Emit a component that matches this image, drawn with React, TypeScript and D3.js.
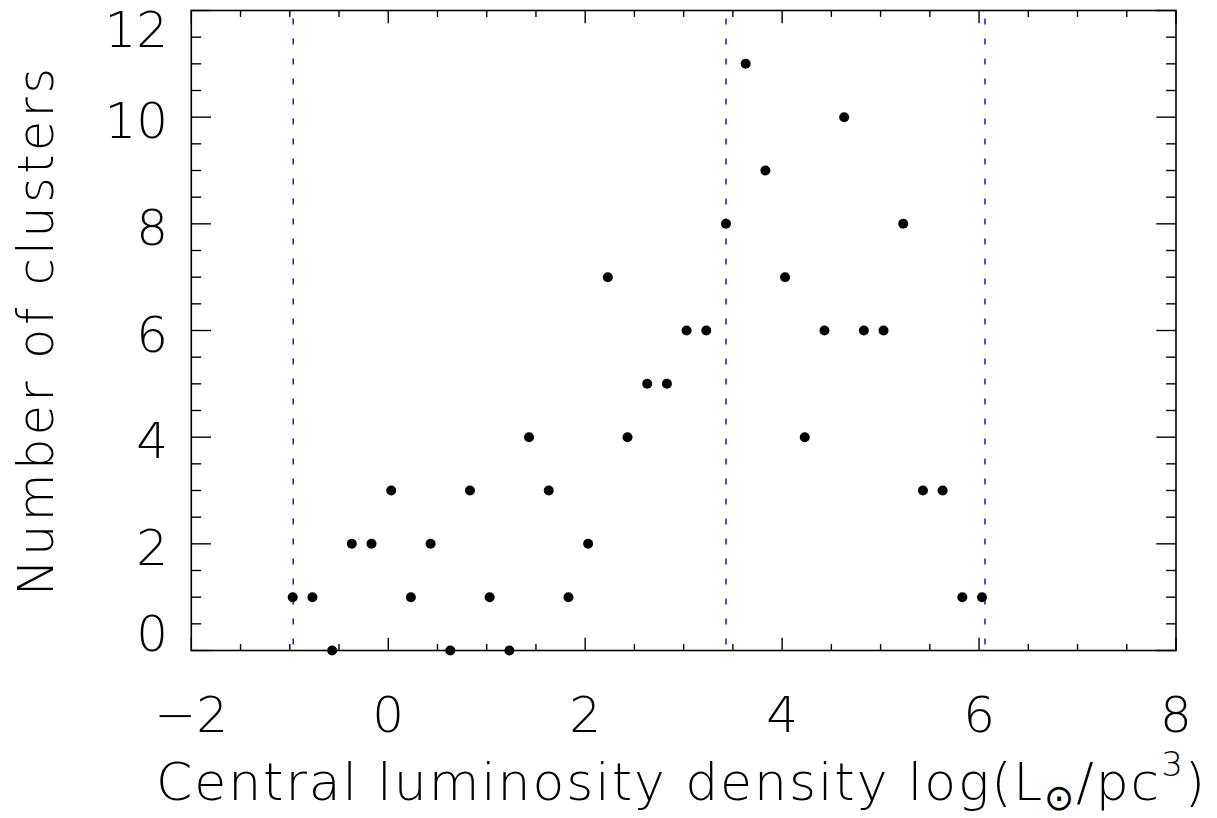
import React from "react";
import * as d3 from "d3";

const binCenters = [
  -0.97, -0.77, -0.57, -0.37, -0.17, 0.03, 0.23, 0.43, 0.63, 0.83, 1.03, 1.23,
  1.43, 1.63, 1.83, 2.03, 2.23, 2.43, 2.63, 2.83, 3.03, 3.23, 3.43, 3.63,
  3.83, 4.03, 4.23, 4.43, 4.63, 4.83, 5.03, 5.23, 5.43, 5.63, 5.83, 6.03,
];
const counts = [
  1, 1, 0, 2, 2, 3, 1, 2, 0, 3, 1, 0, 4, 3, 1, 2, 7, 4, 5, 5, 6, 6, 8, 11,
  9, 7, 4, 6, 10, 6, 6, 8, 3, 3, 1, 1,
];
const markerLines = [-0.965, 3.43, 6.06];
const xTicks = [-2, 0, 2, 4, 6, 8];
const yTicks = [0, 2, 4, 6, 8, 10, 12];
const xTitle = "Central luminosity density log(L";
const yTitle = "Number of clusters";

const W = 1217;
const H = 818;
const L = 191.3, R = 1176, T = 10.5, B = 650.5;
const FONT = "'DejaVu Sans', sans-serif";

export default function App() {
  const x = d3.scaleLinear().domain([-2, 8]).range([L, R]);
  const y = d3.scaleLinear().domain([0, 12]).range([B, T]);
  const xMinor = d3.range(-2, 8.001, 0.5);
  const yMinor = d3.range(0, 12.001, 0.5);
  const xMajLen = 12.8, xMinLen = 6.4, yMajLen = 19.7, yMinLen = 9.85;
  const isMajor = (v: number) => Math.abs(v / 2 - Math.round(v / 2)) < 1e-6;

  return (
    <svg
      width={W}
      height={H}
      style={{ position: "absolute", left: 0, top: 0, display: "block", background: "#fff" }}
    >
      {markerLines.map((m, i) => (
        <line
          key={"m" + i}
          x1={x(m)}
          x2={x(m)}
          y1={T}
          y2={B}
          stroke="#0000ff"
          strokeWidth={1.4}
          strokeDasharray="6,14"
          strokeDashoffset={-8}
        />
      ))}
      <rect x={L} y={T} width={R - L} height={B - T} fill="none" stroke="#000" strokeWidth={1.6} />
      {xMinor.map((v, i) => {
        const len = isMajor(v) ? xMajLen : xMinLen;
        return (
          <g key={"xt" + i} stroke="#000" strokeWidth={1.4}>
            <line x1={x(v)} x2={x(v)} y1={B} y2={B - len} />
            <line x1={x(v)} x2={x(v)} y1={T} y2={T + len} />
          </g>
        );
      })}
      {yMinor.map((v, i) => {
        const len = isMajor(v) ? yMajLen : yMinLen;
        return (
          <g key={"yt" + i} stroke="#000" strokeWidth={1.4}>
            <line x1={L} x2={L + len} y1={y(v)} y2={y(v)} />
            <line x1={R} x2={R - len} y1={y(v)} y2={y(v)} />
          </g>
        );
      })}
      {xTicks.map((v) => (
        <text
          key={"xl" + v}
          x={x(v)}
          y={732}
          textAnchor="middle"
          fontFamily={FONT}
          fontWeight={200}
          fontSize={50}
          fill="#000"
        >
          {v < 0 ? "\u2212" + Math.abs(v) : String(v)}
        </text>
      ))}
      {yTicks.map((v) => {
        const c = Math.min(Math.max(y(v) + 2.5, T + 18), B - 18.5);
        return (
          <text
            key={"yl" + v}
            x={168}
            y={c + 18.5}
            textAnchor="end"
            fontFamily={FONT}
            fontWeight={200}
            fontSize={50}
            fill="#000"
          >
            {String(v)}
          </text>
        );
      })}
      {binCenters.map((b, i) => (
        <circle key={"p" + i} cx={x(b)} cy={y(counts[i])} r={5} fill="#000" />
      ))}
      <text
        transform="translate(53,332) rotate(-90)"
        textAnchor="middle"
        fontFamily={FONT}
        fontWeight={200}
        fontSize={49}
        fill="#000"
        textLength={528}
        lengthAdjust="spacing"
      >
        {yTitle}
      </text>
      <text
        x={156}
        y={800}
        fontFamily={FONT}
        fontWeight={200}
        fontSize={52}
        fill="#000"
        textLength={1049}
        lengthAdjust="spacing"
      >
        {xTitle}
        <tspan fontSize={36} dy={10}>{"\u2299"}</tspan>
        <tspan dy={-10}>/pc</tspan>
        <tspan fontSize={34} dy={-24}>3</tspan>
        <tspan dy={24}>)</tspan>
      </text>
    </svg>
  );
}
